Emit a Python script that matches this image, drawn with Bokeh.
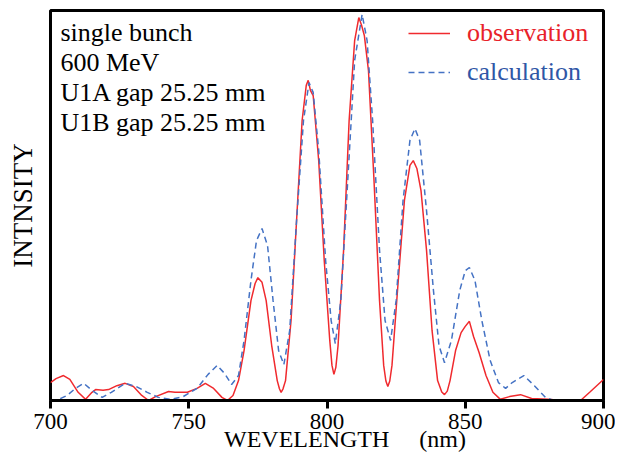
import math
from bokeh.plotting import figure
from bokeh.models import Range1d, Label, Legend, LegendItem, FixedTicker
from bokeh.embed import file_html
from bokeh.resources import INLINE

# observation (red)
obs_wl = [700, 702, 704.7, 707, 710, 712.7, 715, 716.3, 719, 721, 724, 727, 730, 733,
          735.5, 738, 742.7, 745, 749.5, 753, 756, 759, 762, 764, 766, 768, 770, 772.5,
          774, 775, 776.5, 778, 780, 782, 782.8, 783.4, 784.1, 785, 787, 789, 791, 792.5,
          793.2, 794, 795, 797, 799, 801, 801.8, 802.5, 803.2, 804, 806, 808, 810, 811.5,
          812.5, 813.5, 815, 817, 819, 820.5, 821.3, 822, 822.7, 823.5, 825.5, 828, 830,
          831.2, 832.5, 834, 836, 838, 840, 841.5, 842.5, 843.5, 844.5, 846.5, 848.5, 850,
          851.5, 853, 855, 857.5, 860, 862.7, 866, 870, 874, 880, 885, 891.7, 895, 900]
obs_val = [0.046, 0.056, 0.064, 0.054, 0.021, 0.003, 0.021, 0.028, 0.026, 0.028, 0.038,
           0.044, 0.036, 0.013, 0.0, 0.010, 0.023, 0.021, 0.021, 0.031, 0.044, 0.031,
           0.008, 0.0, 0.013, 0.051, 0.128, 0.256, 0.300, 0.315, 0.303, 0.256, 0.141,
           0.051, 0.030, 0.021, 0.030, 0.051, 0.205, 0.462, 0.718, 0.808, 0.821, 0.795,
           0.782, 0.615, 0.359, 0.154, 0.090, 0.067, 0.085, 0.141, 0.385, 0.718, 0.923,
           0.982, 0.962, 0.936, 0.846, 0.564, 0.256, 0.090, 0.050, 0.036, 0.050, 0.090,
           0.282, 0.513, 0.603, 0.615, 0.595, 0.538, 0.385, 0.179, 0.051, 0.022, 0.015,
           0.024, 0.051, 0.128, 0.174, 0.190, 0.203, 0.164, 0.123, 0.064, 0.021, 0.003,
           0.010, 0.015, 0.005, 0.003, 0.0, 0.0, 0.021, 0.054]

# calculation (blue dashed)
calc_wl = [700, 703, 706, 709, 712, 715, 718.7, 722, 727, 731, 735, 739, 743.4, 748, 753,
           757, 760.3, 763, 765.5, 768, 770, 772.5, 774.5, 776.5, 778.5, 780.5, 782.5,
           784.4, 786.5, 789, 791.5, 793.5, 795, 797, 799.5, 801.5, 803, 805, 807.5, 810,
           812.7, 814.5, 816.5, 819, 821, 823, 825, 827.5, 830, 831.8, 833.5, 836, 838.5,
           840.5, 842.5, 845, 848, 850, 851.5, 853.5, 856, 859, 862, 864.6, 867, 871.2,
           875, 879, 882, 900]
calc_val = [0.0, 0.003, 0.013, 0.031, 0.044, 0.026, 0.008, 0.021, 0.044, 0.036, 0.021,
            0.008, 0.003, 0.010, 0.031, 0.067, 0.090, 0.069, 0.041, 0.064, 0.154, 0.308,
            0.410, 0.441, 0.397, 0.256, 0.128, 0.092, 0.179, 0.462, 0.718, 0.815, 0.790,
            0.641, 0.359, 0.205, 0.146, 0.256, 0.564, 0.872, 0.990, 0.923, 0.718, 0.385,
            0.205, 0.154, 0.256, 0.513, 0.667, 0.697, 0.667, 0.487, 0.282, 0.141, 0.097,
            0.154, 0.282, 0.333, 0.341, 0.308, 0.205, 0.103, 0.046, 0.031, 0.046, 0.064,
            0.038, 0.008, 0.0, 0.0]

x_ticks = [700, 750, 800, 850, 900]
info_lines = ["single bunch", "600 MeV", "U1A gap 25.25 mm", "U1B gap 25.25 mm"]
x_label = "\u00a0\u00a0\u00a0\u00a0\u00a0\u00a0WEVELENGTH\u00a0\u00a0\u00a0\u00a0\u00a0(nm)"
y_label = "INTNSITY"

FONT = "Liberation Serif"
RED = "#f02a2e"
BLUE = "#4472c4"

p = figure(width=615, height=454, output_backend="svg", toolbar_location=None,
           x_range=Range1d(700, 900), y_range=Range1d(0, 1),
           min_border_left=50, min_border_right=12, min_border_top=10, min_border_bottom=54)
p.background_fill_color = "white"
p.border_fill_color = "white"
p.outline_line_color = "black"
p.outline_line_width = 3
p.xgrid.visible = False
p.ygrid.visible = False

xa = p.xaxis[0]
xa.ticker = FixedTicker(ticks=x_ticks)
xa.axis_line_width = 3
xa.axis_line_color = "black"
xa.major_tick_line_width = 3
xa.major_tick_out = 8
xa.major_tick_in = 0
xa.minor_tick_line_color = None
xa.major_label_text_font = FONT
xa.major_label_text_font_size = "23px"
xa.major_label_text_color = "black"
xa.major_label_standoff = 5
xa.axis_label = x_label
xa.axis_label_text_font = FONT
xa.axis_label_text_font_size = "24px"
xa.axis_label_text_font_style = "normal"
xa.axis_label_text_color = "black"
xa.axis_label_standoff = -6

ya = p.yaxis[0]
ya.ticker = FixedTicker(ticks=[])
ya.axis_line_color = None
ya.major_tick_line_color = None
ya.minor_tick_line_color = None
ya.axis_label = y_label
ya.axis_label_text_font = FONT
ya.axis_label_text_font_size = "27px"
ya.axis_label_text_font_style = "normal"
ya.axis_label_text_color = "black"
ya.axis_label_standoff = 13

r_obs = p.line(obs_wl, obs_val, line_color=RED, line_width=1.5)
r_calc = p.line(calc_wl, calc_val, line_color=BLUE, line_width=1.5, line_dash="6 4")

# info text block
for i, t in enumerate(info_lines):
    p.add_layout(Label(x=703.6, y=0.943 - i * 0.077, text=t, text_font=FONT,
                       text_font_size="26px", text_color="black",
                       text_baseline="alphabetic"))

# legends (separately coloured labels)
leg1 = Legend(items=[LegendItem(label="observation", renderers=[r_obs])],
              location=(358, 352), label_text_color="#e8222a")
leg2 = Legend(items=[LegendItem(label="calculation", renderers=[r_calc])],
              location=(358, 313), label_text_color="#2f56a6")
for lg in (leg1, leg2):
    lg.border_line_alpha = 0
    lg.background_fill_alpha = 0
    lg.padding = 0
    lg.margin = 0
    lg.glyph_width = 42
    lg.glyph_height = 20
    lg.label_standoff = 17
    lg.label_text_font = FONT
    lg.label_text_font_size = "26px"
    lg.label_height = 20
    p.add_layout(lg)

open("out.html", "w").write(file_html(p, INLINE))
